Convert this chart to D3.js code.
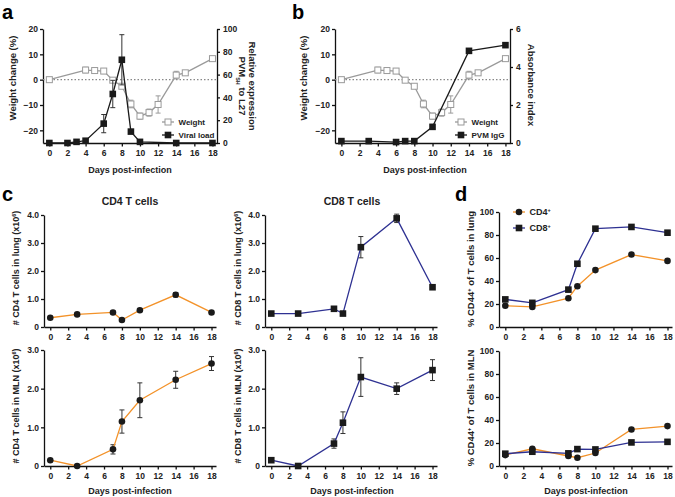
<!DOCTYPE html>
<html>
<head>
<meta charset="utf-8">
<script src="https://cdn.jsdelivr.net/npm/d3@7"></script>
<style>
body { margin: 0; background: #fff; }
svg { font-family: "Liberation Sans", Arial, sans-serif; font-weight: bold; }
.axis text { font-size: 8.5px; fill: #222; font-weight: bold; }
.axis path, .axis line { stroke: #111; stroke-width: 1.3; }
.lab { font-size: 9px; fill: #222; }
.leg { font-size: 8px; fill: #222; }
.letter { font-size: 20px; fill: #000; }
</style>
</head>
<body>
<svg width="675" height="497"></svg>
<script>
// panels a / b
var weightDays = [0, 4, 5, 6, 7, 8, 9, 10, 11, 12, 14, 15, 18];
var weight = [0, 3.8, 3.6, 3.4, -0.2, -2.6, -9.6, -14.4, -13, -9.8, 1.8, 2.7, 8.3];
var weightErr = [0.3, 1.1, 0.8, 1.0, 0.5, 0.8, 1.5, 1.2, 1.4, 3.4, 1.5, 0.5, 0.6];

var viralDays = [0, 2, 3, 4, 6, 7, 8, 9, 10, 14, 18];
var viral = [0, 0, 1, 2, 17, 43, 73, 10, 1, 0, 0];
var viralErr = [0, 0, 0.5, 0.5, 8, 12, 22, 1.5, 0.5, 0, 0];

var iggDays = [0, 3, 6, 7, 8, 10, 14, 18];
var igg = [0.1, 0.1, 0.05, 0.1, 0.1, 0.85, 4.85, 5.15];

// panels c / d
var cDays = [0, 3, 7, 8, 10, 14, 18];
var cd4Lung = [0.33, 0.45, 0.52, 0.25, 0.6, 1.15, 0.52];
var cd4LungErr = [0.03, 0.04, 0.05, 0.03, 0.05, 0.08, 0.05];
var cd8Lung = [0.48, 0.48, 0.65, 0.48, 2.85, 3.88, 1.42];
var cd8LungErr = [0.03, 0.03, 0.08, 0.04, 0.38, 0.15, 0.08];
var cd4Mln = [0.15, 0, 0.43, 1.15, 1.7, 2.23, 2.65];
var cd4MlnErr = [0.02, 0.02, 0.12, 0.3, 0.45, 0.22, 0.18];
var cd8Mln = [0.15, 0, 0.58, 1.12, 2.3, 2.0, 2.48];
var cd8MlnErr = [0.02, 0.02, 0.12, 0.28, 0.5, 0.15, 0.27];

var cd4ActLung = [18.5, 17.5, 25, 35.5, 49.5, 63, 57.5];
var cd8ActLung = [24, 21, 32.5, 55, 85.5, 87, 82];
var cd4ActMln = [9.5, 15, 8.7, 7.2, 11.3, 31.8, 34.7];
var cd8ActMln = [10.7, 12.4, 11, 14.7, 14.4, 20.5, 21];

var dayTicks = [0, 2, 4, 6, 8, 10, 12, 14, 16, 18];

var orange = "#f39229", blue = "#2e3192", grey = "#9a9a9a";

var svg = d3.select("svg");

function zip(xs, ys, es) {
    return xs.map(function(d, i) { return {x: d, y: ys[i], e: es ? es[i] : 0}; });
}

// sets up one plot frame, returns scales
function frame(o) {
    var x = d3.scaleLinear().domain([-0.7, 18.5]).range([o.L, o.R]);
    var y = d3.scaleLinear().domain(o.ydom).range([o.bottom, o.top]);
    svg.append("g")
        .attr("class", "axis")
        .attr("transform", "translate(0," + o.bottom + ")")
        .call(d3.axisBottom(x).tickValues(dayTicks).tickSize(3.5).tickSizeOuter(0).tickPadding(3));
    svg.append("g")
        .attr("class", "axis")
        .attr("transform", "translate(" + o.L + ",0)")
        .call(d3.axisLeft(y).tickValues(o.yticks).tickSize(3).tickSizeOuter(0).tickPadding(2)
            .tickFormat(o.yfmt || d3.format("d")));
    return {x: x, y: y};
}

function rightAxis(x, scale, ticks) {
    svg.append("g").attr("class", "axis").attr("transform", "translate(" + x + ",0)")
        .call(d3.axisRight(scale).tickValues(ticks).tickSize(3).tickSizeOuter(0).tickPadding(3)
            .tickFormat(d3.format("d")));
}

function series(sc, pts, color, shape, errColor) {
    var line = d3.line().x(function(d) { return sc.x(d.x); }).y(function(d) { return sc.y(d.y); });
    var g = svg.append("g");
    var eb = g.selectAll(".eb").data(pts.filter(function(d) { return d.e > 0; })).enter().append("g");
    eb.append("line")
        .attr("x1", function(d) { return sc.x(d.x); }).attr("x2", function(d) { return sc.x(d.x); })
        .attr("y1", function(d) { return sc.y(d.y - d.e); }).attr("y2", function(d) { return sc.y(d.y + d.e); })
        .attr("stroke", errColor || "#333").attr("stroke-width", 1);
    [-1, 1].forEach(function(s) {
        eb.append("line")
            .attr("x1", function(d) { return sc.x(d.x) - 2.5; }).attr("x2", function(d) { return sc.x(d.x) + 2.5; })
            .attr("y1", function(d) { return sc.y(d.y + s * d.e); }).attr("y2", function(d) { return sc.y(d.y + s * d.e); })
            .attr("stroke", errColor || "#333").attr("stroke-width", 1);
    });
    g.append("path").datum(pts).attr("d", line)
        .attr("fill", "none").attr("stroke", color).attr("stroke-width", 1.3);
    marks(g, pts.map(function(d) { return [sc.x(d.x), sc.y(d.y)]; }), shape);
}

function marks(g, xy, shape) {
    if (shape == "circle") {
        g.selectAll(".m").data(xy).enter().append("circle")
            .attr("cx", function(d) { return d[0]; }).attr("cy", function(d) { return d[1]; })
            .attr("r", 3.3).attr("fill", "#1a1a1a");
    } else if (shape == "open") {
        g.selectAll(".m").data(xy).enter().append("rect")
            .attr("x", function(d) { return d[0] - 3; }).attr("y", function(d) { return d[1] - 3; })
            .attr("width", 6).attr("height", 6)
            .attr("fill", "#fff").attr("stroke", grey).attr("stroke-width", 1);
    } else {
        g.selectAll(".m").data(xy).enter().append("rect")
            .attr("x", function(d) { return d[0] - 3.3; }).attr("y", function(d) { return d[1] - 3.3; })
            .attr("width", 6.6).attr("height", 6.6).attr("fill", "#1a1a1a");
    }
}

function vlabel(x, y, size, rot) {
    var t = svg.append("text").attr("class", "lab")
        .attr("transform", "translate(" + x + "," + y + ") rotate(" + (rot || -90) + ")")
        .attr("text-anchor", "middle");
    if (size) t.style("font-size", size + "px");
    return t;
}

function sup(t, parts) {
    parts.forEach(function(p) {
        var ts = t.append("tspan").text(p[0]);
        if (p[1] == "sup") ts.attr("baseline-shift", "super").style("font-size", "5.5px");
        if (p[1] == "sub") ts.attr("baseline-shift", "sub").style("font-size", "5.5px");
    });
}

function legendRow(x, y, color, shape) {
    var g = svg.append("g");
    var ln = d3.scaleLinear().domain([0, 1]).range([x, x + 12]);
    g.append("line").attr("x1", ln(0)).attr("x2", ln(1)).attr("y1", y).attr("y2", y)
        .attr("stroke", color).attr("stroke-width", 1.3);
    marks(g, [[ln(0.5), y]], shape);
    return g.append("text").attr("class", "leg").attr("x", ln(1) + 4.5).attr("y", y + 3);
}

function dotted(sc, L, R) {
    svg.append("line").attr("x1", L).attr("x2", R).attr("y1", sc.y(0)).attr("y2", sc.y(0))
        .attr("stroke", "#888").attr("stroke-width", 1.2).attr("stroke-dasharray", "1.5,2");
}

function caption(x, y, txt, size) {
    var t = svg.append("text").attr("class", "lab").attr("x", x).attr("y", y).attr("text-anchor", "middle").text(txt);
    if (size) t.style("font-size", size + "px");
}

// ---------- panel a ----------
var a = frame({L: 43, R: 217, top: 29, bottom: 143, ydom: [-25, 20], yticks: [-20, -10, 0, 10, 20]});
var aR = d3.scaleLinear().domain([0, 100]).range([143, 29]);
rightAxis(217, aR, [0, 20, 40, 60, 80, 100]);
dotted(a, 43, 217);
series(a, zip(weightDays, weight, weightErr), grey, "open", grey);
series({x: a.x, y: aR}, zip(viralDays, viral, viralErr), "#1a1a1a", "square");
legendRow(162, 122, grey, "open").text("Weight");
legendRow(162, 135, "#1a1a1a", "square").text("Viral load");
vlabel(15.5, 78, 9.5).text("Weight change (%)");
vlabel(249, 86, 9.5, 90).text("Relative expression");
sup(vlabel(239, 86, 9.5, 90), [["PVM"], ["SH", "sub"], [" to L27"]]);
caption(130, 173, "Days post-infection");
svg.append("text").attr("class", "letter").attr("x", 2).attr("y", 19).text("a");

// ---------- panel b ----------
var b = frame({L: 335, R: 510, top: 29, bottom: 143, ydom: [-25, 20], yticks: [-20, -10, 0, 10, 20]});
var bR = d3.scaleLinear().domain([0, 6]).range([143, 29]);
rightAxis(510, bR, [0, 2, 4, 6]);
dotted(b, 335, 510);
series(b, zip(weightDays, weight, weightErr), grey, "open", grey);
series({x: b.x, y: bR}, zip(iggDays, igg), "#1a1a1a", "square");
legendRow(455, 122, grey, "open").text("Weight");
legendRow(455, 135, "#1a1a1a", "square").text("PVM IgG");
vlabel(307, 78, 9.5).text("Weight change (%)");
vlabel(528, 85, 9.5, 90).text("Absorbance index");
caption(425, 173, "Days post-infection");
svg.append("text").attr("class", "letter").attr("x", 292).attr("y", 19).text("b");

// ---------- panel c ----------
var f1 = d3.format(".1f");
function fmtC(d) { return d == 0 ? "0" : f1(d); }
var c1 = frame({L: 44, R: 216, top: 215, bottom: 327, ydom: [0, 4], yticks: [0, 1, 2, 3, 4], yfmt: fmtC});
series(c1, zip(cDays, cd4Lung, cd4LungErr), orange, "circle");
var c2 = frame({L: 265, R: 437, top: 215, bottom: 327, ydom: [0, 4], yticks: [0, 1, 2, 3, 4], yfmt: fmtC});
series(c2, zip(cDays, cd8Lung, cd8LungErr), blue, "square");
var c3 = frame({L: 44, R: 216, top: 350, bottom: 466, ydom: [0, 3], yticks: [0, 1, 2, 3], yfmt: fmtC});
series(c3, zip(cDays, cd4Mln, cd4MlnErr), orange, "circle");
var c4 = frame({L: 265, R: 437, top: 350, bottom: 466, ydom: [0, 3], yticks: [0, 1, 2, 3], yfmt: fmtC});
series(c4, zip(cDays, cd8Mln, cd8MlnErr), blue, "square");

caption(130, 205, "CD4 T cells", 10.5);
caption(352, 205, "CD8 T cells", 10.5);
sup(vlabel(18.5, 268, 9), [["# CD4 T cells in lung (x10"], ["6", "sup"], [")"]]);
sup(vlabel(240.5, 268, 9), [["# CD8 T cells in lung (x10"], ["6", "sup"], [")"]]);
sup(vlabel(18.5, 406, 9), [["# CD4 T cells in MLN (x10"], ["6", "sup"], [")"]]);
sup(vlabel(240.5, 406, 9), [["# CD8 T cells in MLN (x10"], ["6", "sup"], [")"]]);
caption(130, 494, "Days post-infection");
caption(352, 494, "Days post-infection");
svg.append("text").attr("class", "letter").attr("x", 2).attr("y", 201).text("c");

// ---------- panel d ----------
var d1 = frame({L: 499, R: 672, top: 212, bottom: 327, ydom: [0, 100], yticks: [0, 20, 40, 60, 80, 100]});
series(d1, zip(cDays, cd4ActLung), orange, "circle");
series(d1, zip(cDays, cd8ActLung), blue, "square");
var d2 = frame({L: 499, R: 672, top: 351, bottom: 466, ydom: [0, 100], yticks: [0, 20, 40, 60, 80, 100]});
series(d2, zip(cDays, cd4ActMln), orange, "circle");
series(d2, zip(cDays, cd8ActMln), blue, "square");
sup(legendRow(513, 212, orange, "circle").style("font-size", "9px"), [["CD4"], ["+", "sup"]]);
sup(legendRow(513, 228, blue, "square").style("font-size", "9px"), [["CD8"], ["+", "sup"]]);
sup(vlabel(473.5, 269, 9.5), [["% CD44"], ["+", "sup"], [" of T cells in lung"]]);
sup(vlabel(473.5, 408, 9.5), [["% CD44"], ["+", "sup"], [" of T cells in MLN"]]);
caption(586, 494, "Days post-infection");
svg.append("text").attr("class", "letter").attr("x", 455).attr("y", 201).text("d");
</script>
</body>
</html>
